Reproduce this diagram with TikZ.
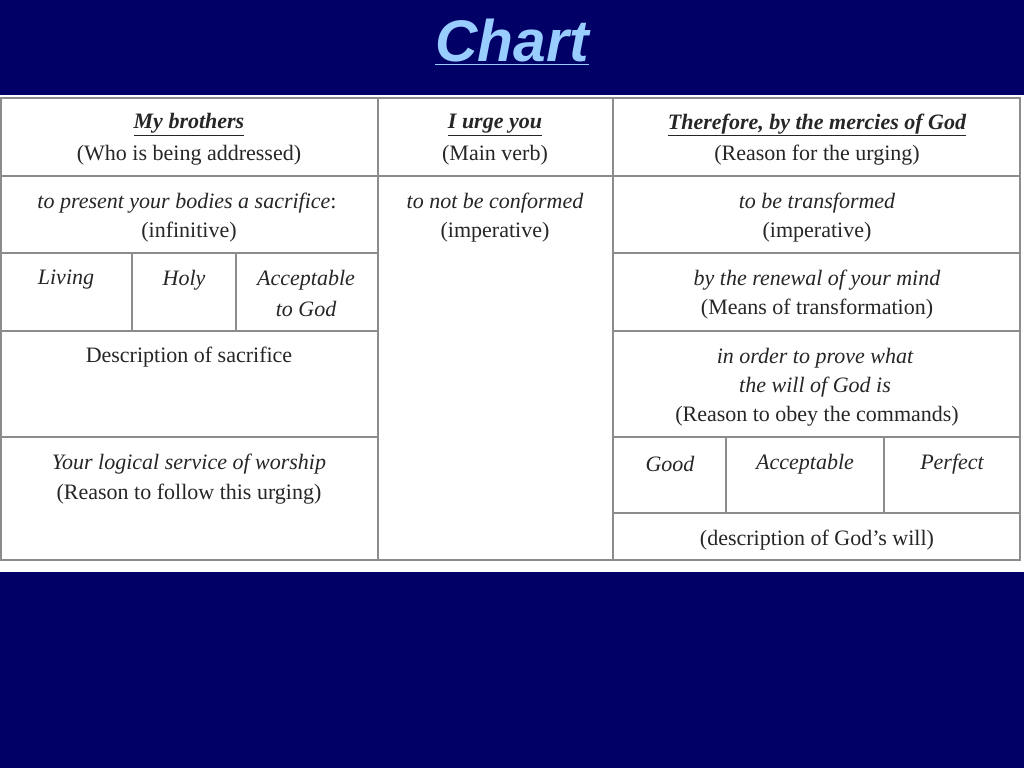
\documentclass[tikz,border=0pt]{standalone}
\usepackage{fontspec}
\setmainfont{Liberation Serif}
\newfontfamily\titlefont{Liberation Sans}
\begin{document}
\begin{tikzpicture}[x=0.75pt,y=-0.75pt,
  t/.style={inner sep=0pt,anchor=center,font=\fontsize{16.5pt}{20pt}\selectfont,text=black!85},
  ti/.style={t,font=\fontsize{16.5pt}{20pt}\selectfont\itshape},
  hd/.style={t,font=\fontsize{16.5pt}{20pt}\selectfont\bfseries\itshape},
  g/.style={draw=black!45,line width=0.9pt}]
\definecolor{navy}{HTML}{000066}
\definecolor{ltblue}{HTML}{99CCFF}
\useasboundingbox (0,0) rectangle (1024,768);
\fill[navy] (0,0) rectangle (1024,768);
\fill[white] (0,95) rectangle (1024,572);
\node[inner sep=0pt,text=ltblue,font=\titlefont\fontsize{44pt}{48pt}\selectfont\bfseries\itshape] (title) at (512,42) {\underline{Chart}};
% grid
\draw[g] (1,98) rectangle (1020,560);
\draw[g] (378,98) -- (378,560);
\draw[g] (613,98) -- (613,560);
\draw[g] (1,176) -- (1020,176);
\draw[g] (1,253) -- (378,253) (613,253) -- (1020,253);
\draw[g] (1,331) -- (378,331) (613,331) -- (1020,331);
\draw[g] (1,437) -- (378,437) (613,437) -- (1020,437);
\draw[g] (613,513) -- (1020,513);
\draw[g] (132,253) -- (132,331) (236,253) -- (236,331);
\draw[g] (726,437) -- (726,513) (884,437) -- (884,513);
% text
\node[hd] (a1) at (189,125) {\underline{My brothers}};
\node[t] (a2) at (189,155) {(Who is being addressed)};
\node[hd] (b1) at (495,125) {\underline{I urge you}};
\node[t] (b2) at (495,155) {(Main verb)};
\node[hd] (c1) at (817,125) {\underline{Therefore, by the mercies of God}};
\node[t] (c2) at (817,155) {(Reason for the urging)};
\node[ti] (a3) at (187,203) {to present your bodies a sacrifice\upshape:};
\node[t] (a4) at (189,232) {(infinitive)};
\node[ti] (b3) at (495,203) {to not be conformed};
\node[t] (b4) at (495,232) {(imperative)};
\node[ti] (c3) at (817,203) {to be transformed};
\node[t] (c4) at (817,232) {(imperative)};
\node[ti] (l1) at (66,280) {Living};
\node[ti] (l2) at (184,280) {Holy};
\node[ti] (l3) at (306,280) {Acceptable};
\node[ti] (l4) at (306,309) {to God};
\node[ti] (c5) at (817,280) {by the renewal of your mind};
\node[t] (c6) at (817,309) {(Means of transformation)};
\node[t] (a5) at (189,357) {Description of sacrifice};
\node[ti] (c7) at (815,358) {in order to prove what};
\node[ti] (c8) at (815,387) {the will of God is};
\node[t] (c9) at (817,416) {(Reason to obey the commands)};
\node[ti] (a6) at (189,464) {Your logical service of worship};
\node[t] (a7) at (189,494) {(Reason to follow this urging)};
\node[ti] (r1) at (670,464) {Good};
\node[ti] (r2) at (805,464) {Acceptable};
\node[ti] (r3) at (952,464) {Perfect};
\node[t] (r4) at (817,540) {(description of God’s will)};
\end{tikzpicture}
\end{document}
